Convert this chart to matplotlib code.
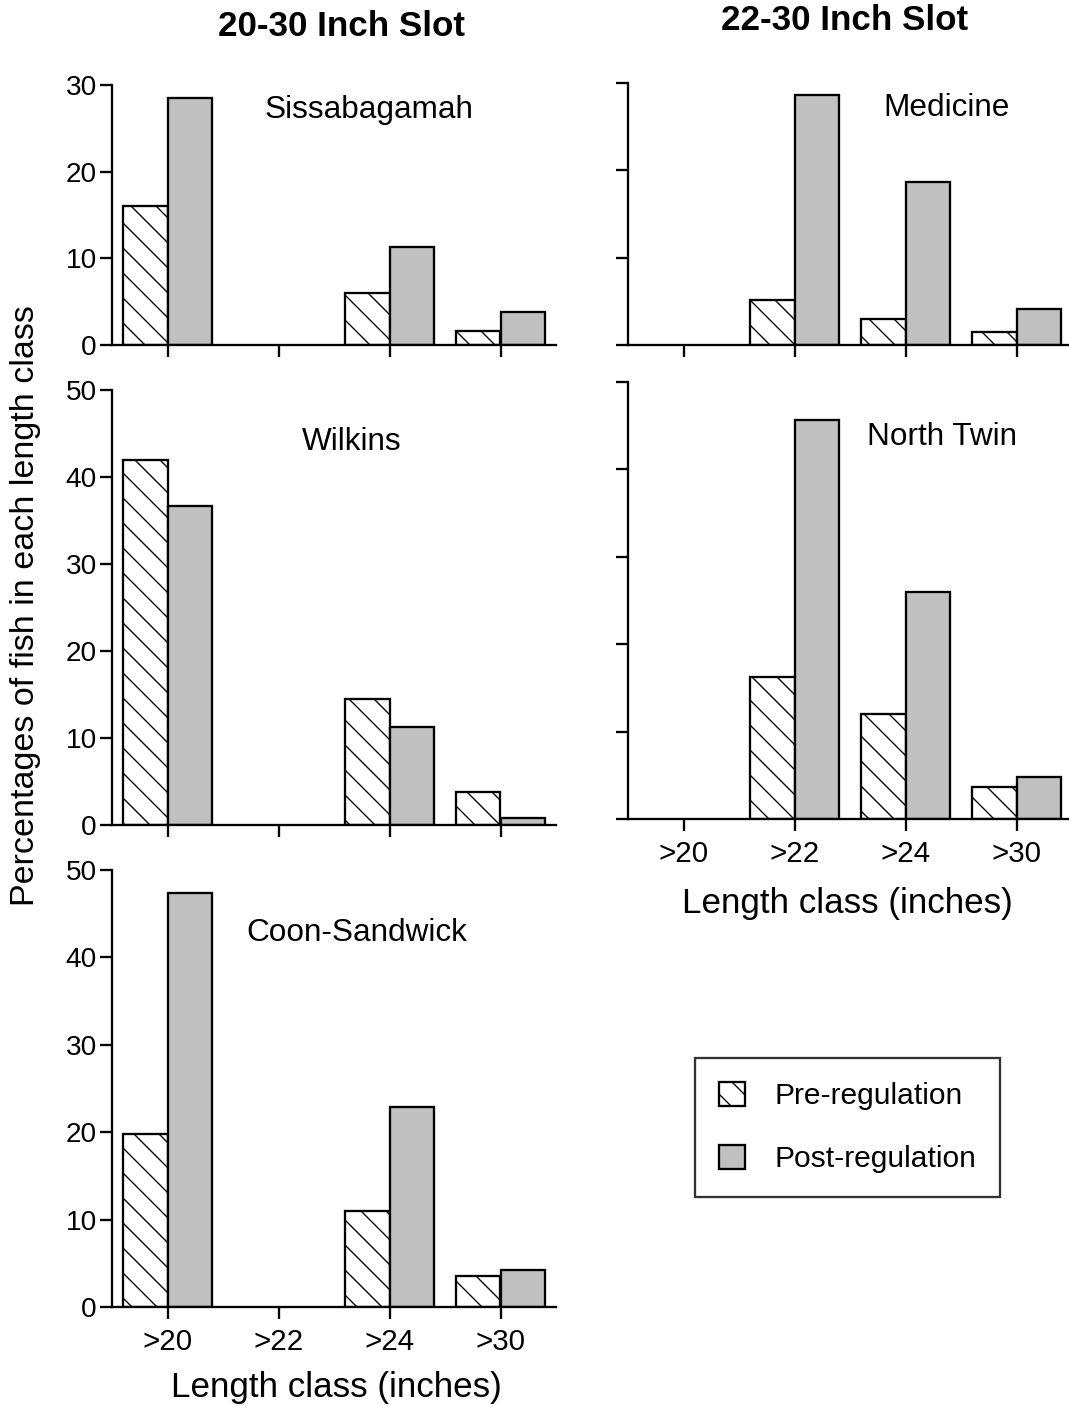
import matplotlib
matplotlib.use("Agg")
import matplotlib.pyplot as plt
import numpy as np

plt.rcParams['font.family'] = ['Liberation Sans', 'DejaVu Sans']
plt.rcParams['hatch.linewidth'] = 1.3

categories = [">20", ">22", ">24", ">30"]

sissa_pre = [16.0, 0, 6.0, 1.6]
sissa_post = [28.5, 0, 11.3, 3.8]
wilkins_pre = [41.9, 0, 14.5, 3.8]
wilkins_post = [36.7, 0, 11.3, 0.8]
coon_pre = [19.8, 0, 11.0, 3.5]
coon_post = [47.4, 0, 22.9, 4.2]
medicine_pre = [0, 5.1, 3.0, 1.5]
medicine_post = [0, 28.6, 18.7, 4.1]
ntwin_pre = [0, 16.3, 12.0, 3.7]
ntwin_post = [0, 45.6, 26.0, 4.8]

DPI = 75
W, H = 1069, 1406
fig = plt.figure(figsize=(W / DPI, H / DPI), dpi=DPI)

def pt(px):
    return px * 72.0 / DPI

def px_axes(x0, y_top, x1, y_bot):
    return fig.add_axes([x0 / W, 1 - y_bot / H, (x1 - x0) / W, (y_bot - y_top) / H])

GREY = '#c0c0c0'
BW = 0.4
LW = pt(2.3)
YTICK_FS = pt(28)
XTICK_FS = pt(29.5)
PANEL_FS = pt(31.5)

def draw(ax, pre, post, ymax, yticks, label, lx, ly, show_ylabels=True, show_xlabels=False):
    x = np.arange(len(categories))
    pre = np.array(pre, dtype=float)
    post = np.array(post, dtype=float)
    mpre = pre > 0
    mpost = post > 0
    b1 = ax.bar(x[mpre] - BW / 2, pre[mpre], width=BW, facecolor='white', edgecolor='black',
                hatch='\\', linewidth=LW, label='Pre-regulation', zorder=3)
    b2 = ax.bar(x[mpost] + BW / 2, post[mpost], width=BW, facecolor=GREY, edgecolor='black',
                linewidth=LW, label='Post-regulation', zorder=3)
    ax.set_xlim(-0.5, 3.5)
    ax.set_ylim(0, ymax)
    ax.set_yticks(yticks)
    ax.set_xticks(x)
    for s in ['top', 'right']:
        ax.spines[s].set_visible(False)
    for s in ['left', 'bottom']:
        ax.spines[s].set_linewidth(LW)
        ax.spines[s].set_zorder(4)
    ax.tick_params(axis='both', direction='out', length=pt(12), width=LW)
    ax.tick_params(axis='y', labelsize=YTICK_FS, pad=pt(3))
    ax.tick_params(axis='x', labelsize=XTICK_FS, pad=pt(9))
    if show_xlabels:
        ax.set_xticklabels(categories)
    else:
        ax.set_xticklabels([])
    if not show_ylabels:
        ax.set_yticklabels([])
    ax.patch.set_alpha(0)
    fig.text(lx / W, 1 - ly / H, label, ha='center', va='center', fontsize=PANEL_FS)
    return b1, b2

ax1 = px_axes(112, 85, 556, 345)
draw(ax1, sissa_pre, sissa_post, 30, [0, 10, 20, 30], 'Sissabagamah', 369, 110)
ax2 = px_axes(112, 390, 556, 825)
draw(ax2, wilkins_pre, wilkins_post, 50, [0, 10, 20, 30, 40, 50], 'Wilkins', 352, 442)
ax3 = px_axes(112, 870, 556, 1307)
b1, b2 = draw(ax3, coon_pre, coon_post, 50, [0, 10, 20, 30, 40, 50], 'Coon-Sandwick', 357, 933,
              show_xlabels=True)
ax4 = px_axes(628, 83, 1072, 345)
draw(ax4, medicine_pre, medicine_post, 30, [0, 10, 20, 30], 'Medicine', 947, 108, show_ylabels=False)
ax5 = px_axes(628, 382, 1072, 819)
draw(ax5, ntwin_pre, ntwin_post, 50, [0, 10, 20, 30, 40, 50], 'North Twin', 942, 437,
     show_ylabels=False, show_xlabels=True)

XL_FS = pt(35)
fig.text(336 / W, 1 - 1388 / H, 'Length class (inches)', ha='center', va='center', fontsize=XL_FS)
fig.text(847 / W, 1 - 903 / H, 'Length class (inches)', ha='center', va='center', fontsize=XL_FS)

fig.text(342 / W, 1 - 26 / H, '20-30 Inch Slot', ha='center', va='center', fontsize=pt(35),
         fontweight='bold')
fig.text(845 / W, 1 - 21 / H, '22-30 Inch Slot', ha='center', va='center', fontsize=pt(35),
         fontweight='bold')
fig.text(26 / W, 1 - 606 / H, 'Percentages of fish in each length class', ha='center', va='center',
         rotation=90, fontsize=pt(34))

leg = fig.legend([b1, b2], ['Pre-regulation', 'Post-regulation'], loc='upper left',
                 bbox_to_anchor=(695 / W, 1 - 1058 / H), borderaxespad=0, fontsize=pt(30),
                 frameon=True, fancybox=False, edgecolor='black', handlelength=0.85,
                 handleheight=0.85, handletextpad=1.0, labelspacing=1.15, borderpad=0.8)
leg.get_frame().set_linewidth(LW)

fig.savefig('out.png', dpi=DPI, facecolor='white')
